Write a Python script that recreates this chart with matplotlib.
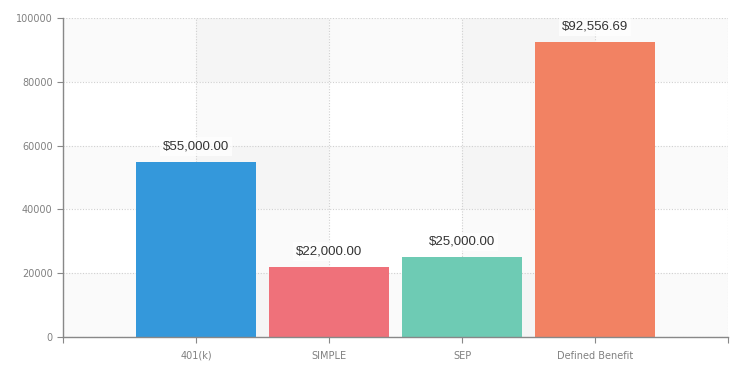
import matplotlib
matplotlib.use("Agg")
import matplotlib.pyplot as plt

categories = ["401(k)", "SIMPLE", "SEP", "Defined Benefit"]
values = [55000.00, 22000.00, 25000.00, 92556.69]
colors = ["#3498db", "#ef717a", "#6ecbb4", "#f28263"]
yticks = [0, 20000, 40000, 60000, 80000, 100000]

plt.rcParams['font.family'] = ['DejaVu Sans']

fig = plt.figure(figsize=(7.38, 3.72), dpi=100)
ax = fig.add_axes([63/738, 35/372, 665/738, 319/372])

xpos = list(range(1, len(categories) + 1))
xmax = len(categories) + 1
ax.set_xlim(0, xmax)
ax.set_ylim(0, 100000)

# alternating background bands
for i in range(0, len(yticks) - 1, 2):
    ax.axhspan(yticks[i], yticks[i + 1], color="#000000", alpha=0.02, lw=0, zorder=0)
for x0 in range(1, xmax, 2):
    ax.axvspan(x0, x0 + 1, color="#000000", alpha=0.018, lw=0, zorder=0)

ax.set_yticks(yticks)
ax.set_xticks(range(0, xmax + 1))
ax.set_xticklabels([""] + categories + [""])
ax.grid(True, color="#d0d0d0", linestyle=(0, (1, 1.5)), linewidth=0.8, zorder=1)

bars = ax.bar(xpos, values, width=0.9, color=colors, zorder=2)
for x, v in zip(xpos, values):
    ax.annotate(f"${v:,.2f}", xy=(x, v), xytext=(0, 11), textcoords="offset points",
                ha="center", va="center", fontsize=9.5, color="#333333", zorder=4,
                family=["Liberation Sans", "DejaVu Sans"],
                bbox=dict(boxstyle="square,pad=0.25", fc="white", ec="none", alpha=0.7))

for s in ["top", "right"]:
    ax.spines[s].set_visible(False)
for s in ["left", "bottom"]:
    ax.spines[s].set_color("#888888")
    ax.spines[s].set_linewidth(1.0)
ax.tick_params(axis="both", colors="#888888", labelcolor="#808080", labelsize=7, length=4)
ax.tick_params(axis="x", pad=6)

fig.savefig("out.png", dpi=100, facecolor="white")
